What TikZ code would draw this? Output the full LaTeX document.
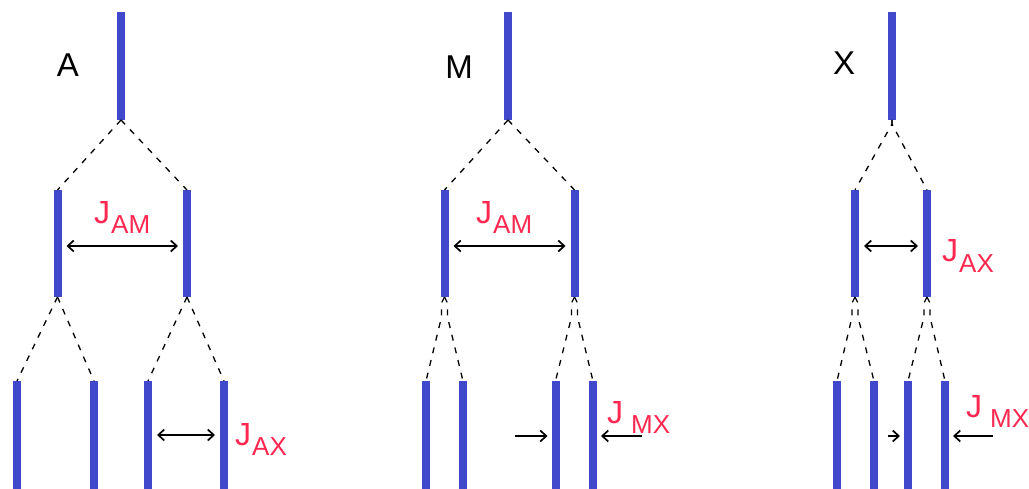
\documentclass[tikz,border=0pt]{standalone}
\usepackage{fontspec}
\setmainfont{Liberation Sans}
\usetikzlibrary{arrows.meta}
\definecolor{barblue}{RGB}{66,72,204}
\definecolor{jred}{RGB}{255,40,80}
\newcommand{\jsub}[2]{J#1\raisebox{-10pt}{\fontsize{26}{26}\selectfont #2}}
\begin{document}
\begin{tikzpicture}[x=1pt,y=-1pt,
  bar/.style={rectangle, fill=barblue, draw=none, minimum width=8pt, inner sep=0pt, outer sep=0pt},
  toprow/.style={bar, minimum height=108pt},
  midrow/.style={bar, minimum height=107pt},
  lowrow/.style={bar, minimum height=110pt},
  dsh/.style={draw=black, line width=1.3pt, dash pattern=on 6pt off 7pt},
  dbl/.style={line width=1.7pt, {Straight Barb[length=6pt,width=11pt]}-{Straight Barb[length=6pt,width=11pt]}, shorten <=5pt, shorten >=5pt},
  one/.style={line width=1.7pt, -{Straight Barb[length=6pt,width=11pt]}, shorten >=4pt},
  lbl/.style={font=\fontsize{33}{33}\selectfont, inner sep=0pt},
  jlbl/.style={text=jred, font=\fontsize{32}{32}\selectfont, inner sep=0pt, anchor=base west},
]
\useasboundingbox (0,0) rectangle (1029,489);

% ---------- panel A ----------
\node[toprow] (a0) at (121,66) {};
\node[midrow] (a1) at (57.5,243.5) {};
\node[midrow] (a2) at (187,243.5) {};
\node[lowrow] (a3) at (17,436) {};
\node[lowrow] (a4) at (94,436) {};
\node[lowrow] (a5) at (148,436) {};
\node[lowrow] (a6) at (224,436) {};
\draw[dsh] (a0.south) -- (a1.north);
\draw[dsh] (a0.south) -- (a2.north);
\draw[dsh] (a1.south) -- (a3.north);
\draw[dsh] (a1.south) -- (a4.north);
\draw[dsh] (a2.south) -- (a5.north);
\draw[dsh] (a2.south) -- (a6.north);
\draw[dbl] ([yshift=-2.5pt]a1.east) -- ([yshift=-2.5pt]a2.west);
\draw[dbl] ([yshift=1pt]a5.east) -- ([yshift=1pt]a6.west);
\node[lbl] (la) at (68,65) {A};
\node[jlbl] (jam1) at (94,224) {\jsub{\kern1pt}{AM}};
\node[jlbl] (jax1) at (235,445) {\jsub{\kern1pt}{AX}};

% ---------- panel M ----------
\node[toprow] (m0) at (508,66) {};
\node[midrow] (m1) at (444.5,243.5) {};
\node[midrow] (m2) at (574.5,243.5) {};
\node[lowrow] (m3) at (426,436) {};
\node[lowrow] (m4) at (463,436) {};
\node[lowrow] (m5) at (555.5,436) {};
\node[lowrow] (m6) at (593,436) {};
\draw[dsh] (m0.south) -- (m1.north);
\draw[dsh] (m0.south) -- (m2.north);
\draw[dsh] (m1.south) -- ++(-3,6) -- ++(0,14) -- (m3.north);
\draw[dsh] (m1.south) -- ++(3,6) -- ++(0,14) -- (m4.north);
\draw[dsh] (m2.south) -- ++(-3,6) -- ++(0,14) -- (m5.north);
\draw[dsh] (m2.south) -- ++(3,6) -- ++(0,14) -- (m6.north);
\draw[dbl] ([yshift=-2.5pt]m1.east) -- ([yshift=-2.5pt]m2.west);
\coordinate (mr) at (515,436);
\coordinate (ml) at (642,436);
\draw[one] (mr) -- (m5.west);
\draw[one] (ml) -- (m6.east);
\node[lbl] (lm) at (459,67) {M};
\node[jlbl] (jam2) at (476,224) {\jsub{\kern1pt}{AM}};
\node[jlbl] (jmx2) at (607,423) {\jsub{\kern8pt}{MX}};

% ---------- panel X ----------
\node[toprow] (x0) at (892,66) {};
\node[midrow] (x1) at (855,243.5) {};
\node[midrow] (x2) at (927,243.5) {};
\node[lowrow] (x3) at (837,436) {};
\node[lowrow] (x4) at (874,436) {};
\node[lowrow] (x5) at (908,436) {};
\node[lowrow] (x6) at (945,436) {};
\draw[dsh] (x0.south) -- ++(0,4) -- (x1.north);
\draw[dsh] (x0.south) -- ++(0,4) -- (x2.north);
\draw[dsh] (x1.south) -- ++(-3,6) -- ++(0,14) -- (x3.north);
\draw[dsh] (x1.south) -- ++(3,6) -- ++(0,14) -- (x4.north);
\draw[dsh] (x2.south) -- ++(-3,6) -- ++(0,14) -- (x5.north);
\draw[dsh] (x2.south) -- ++(3,6) -- ++(0,14) -- (x6.north);
\draw[dbl] ([yshift=-2.5pt]x1.east) -- ([yshift=-2.5pt]x2.west);
\coordinate (xr) at (888,436);
\coordinate (xl) at (993,436);
\draw[one] (xr) -- (x5.west);
\draw[one] (xl) -- (x6.east);
\node[lbl] (lx) at (844,63) {X};
\node[jlbl] (jax3) at (942,262) {\jsub{\kern1pt}{AX}};
\node[jlbl] (jmx3) at (966,417) {\jsub{\kern8pt}{MX}};
\end{tikzpicture}
\end{document}
